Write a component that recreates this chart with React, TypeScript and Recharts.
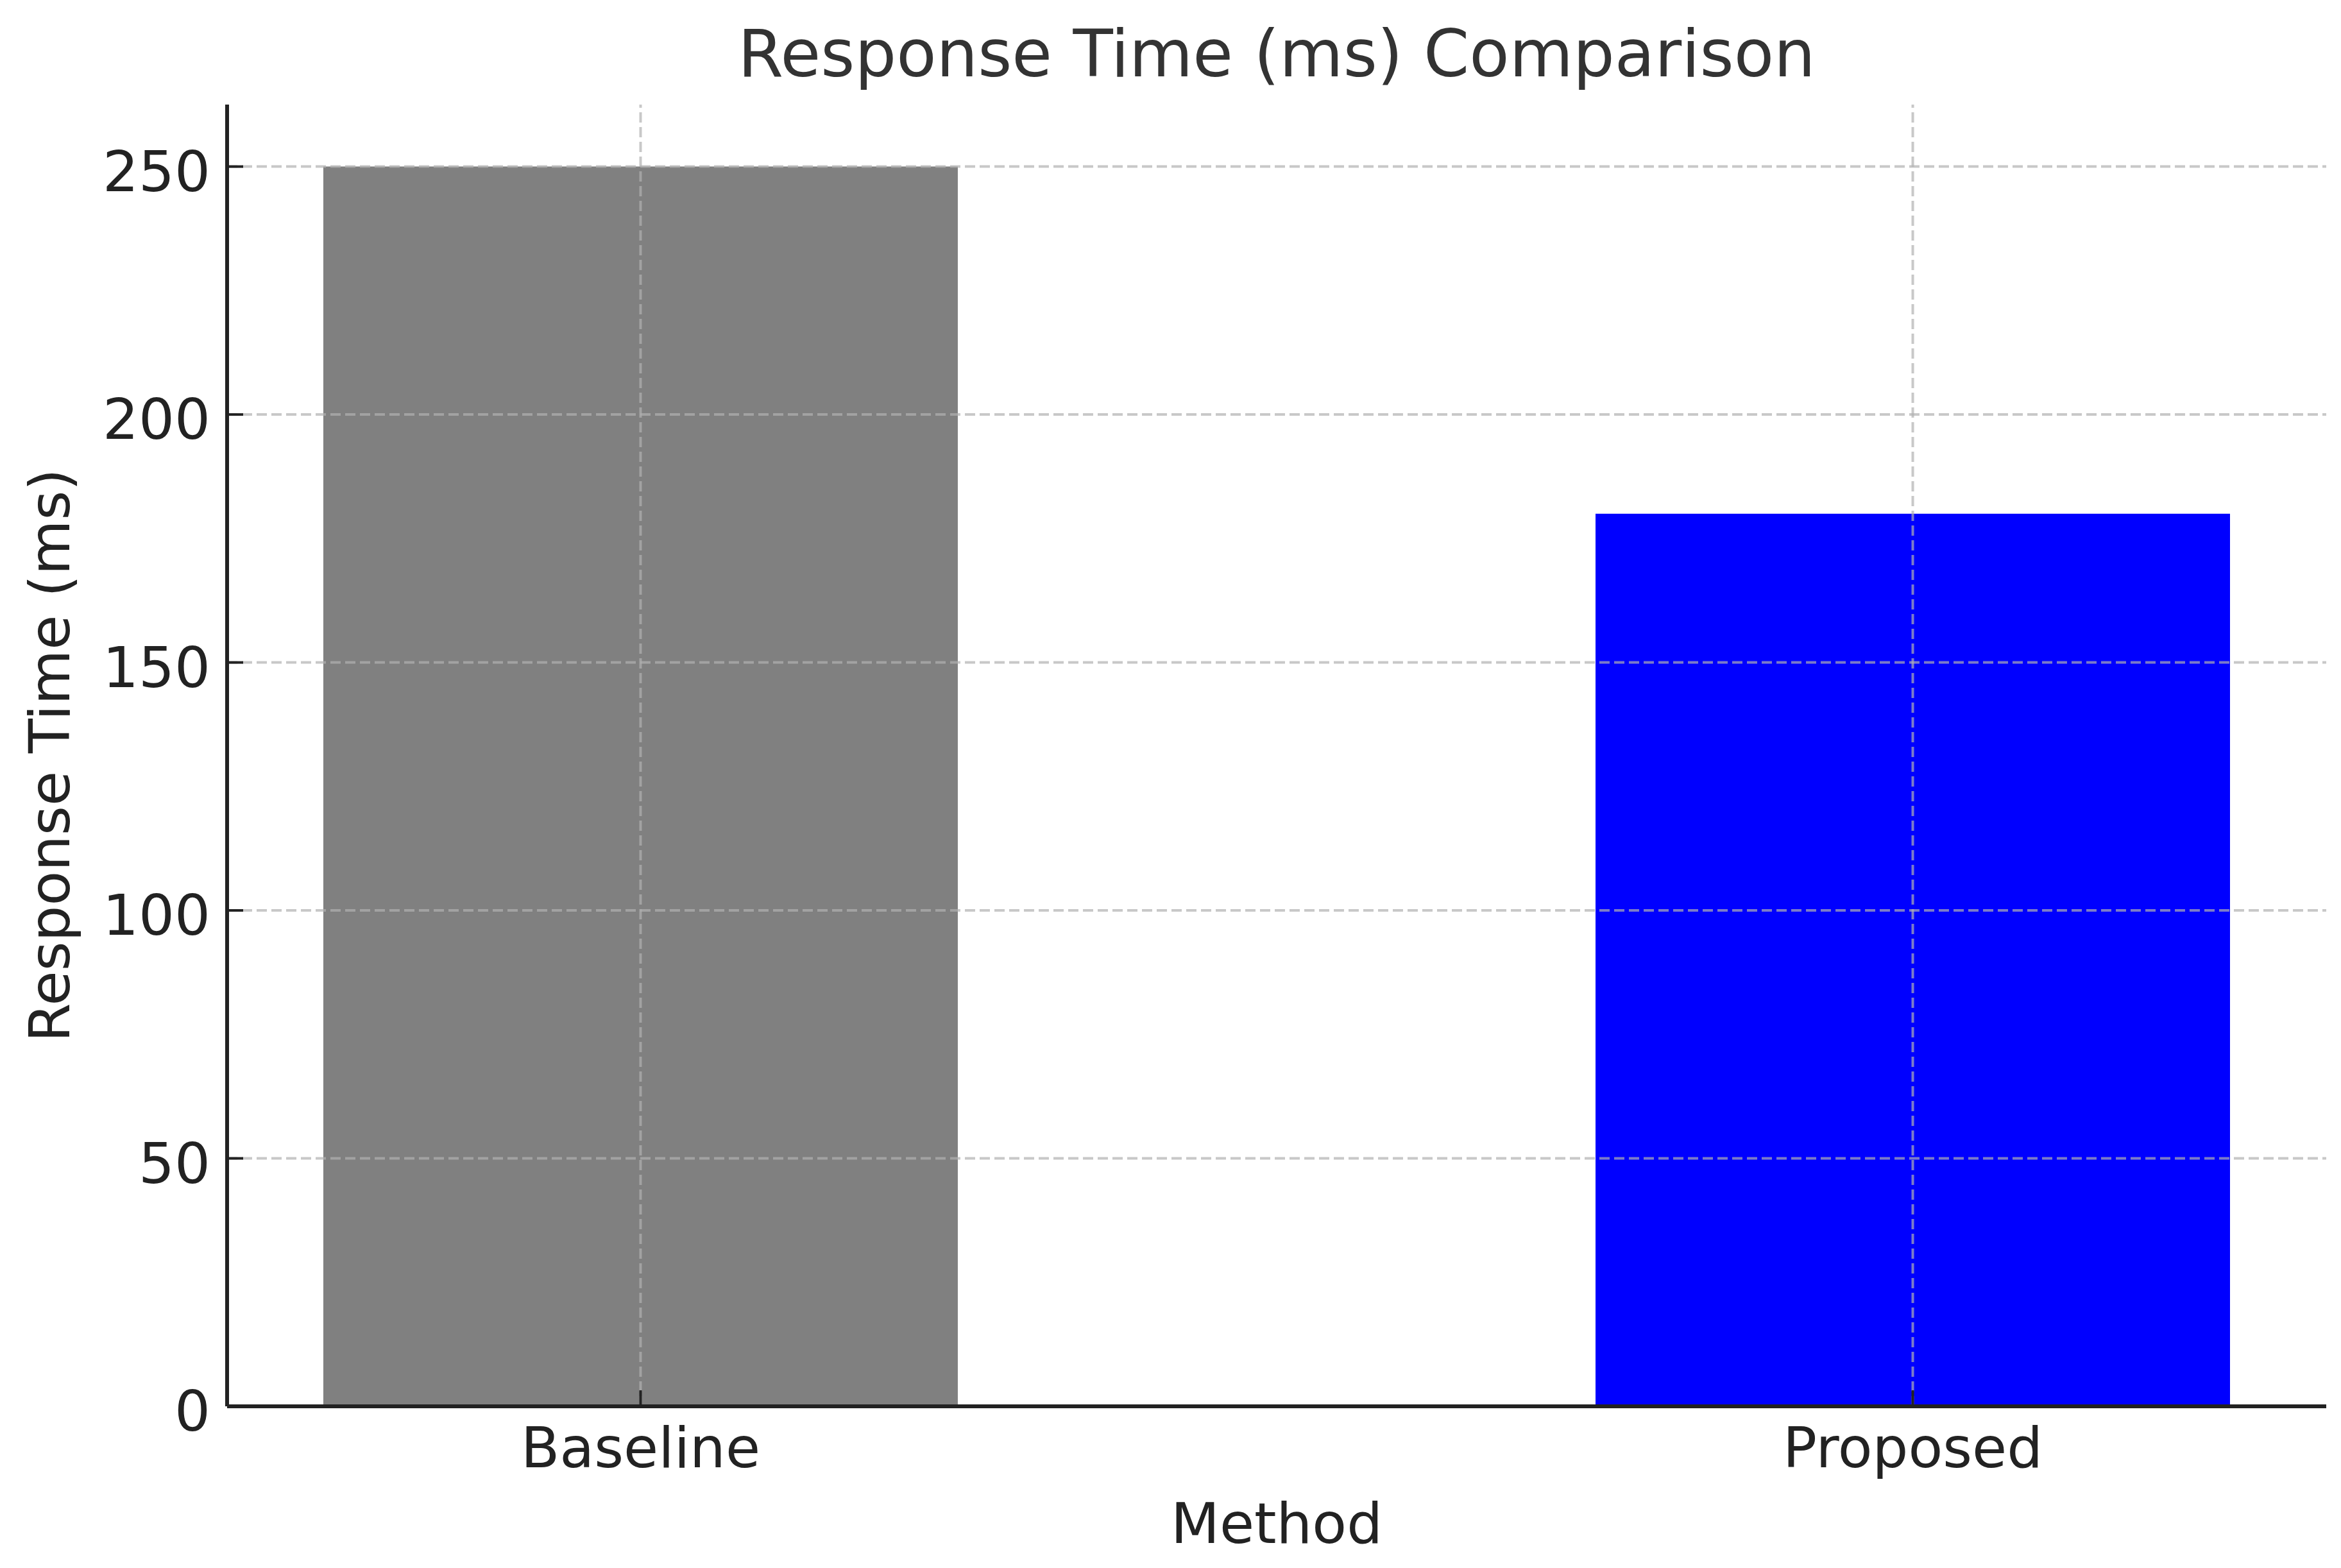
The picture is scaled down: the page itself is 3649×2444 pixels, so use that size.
import React from 'react';
import { BarChart, Bar, XAxis, YAxis, Cell, ReferenceLine } from 'recharts';

const methods = ['Baseline', 'Proposed'];
const responseTimes = [250, 180];
const barColors = ['#808080', '#0000ff'];
const yTicks = [0, 50, 100, 150, 200, 250];
const xTicks = [0, 1];

const W = 3649;
const H = 2444;
const FONT = '"DejaVu Sans", "Liberation Sans", sans-serif';
const INK = '#222222';

const data = methods.map((name, i) => ({ pos: i, name, value: responseTimes[i] }));

const gridStyle = {
  stroke: '#b0b0b0',
  strokeOpacity: 0.7,
  strokeWidth: 4,
  strokeDasharray: '16 7',
};

// matplotlib-style inward ticks: line into the plot, label outside
const YTick = (props: any) => {
  const { x, y, payload } = props;
  return (
    <g>
      <line x1={x + 26} x2={x + 51} y1={y} y2={y} stroke={INK} strokeWidth={4} />
      <text x={x} y={y + 38} textAnchor="end" fontSize={88} fill={INK} fontFamily={FONT}>
        {payload.value}
      </text>
    </g>
  );
};

const XTick = (props: any) => {
  const { x, y, payload } = props;
  return (
    <g>
      <line x1={x} x2={x} y1={y} y2={y - 25} stroke={INK} strokeWidth={4} />
      <text x={x} y={y + 95} textAnchor="middle" fontSize={88} fill={INK} fontFamily={FONT}>
        {methods[payload.value]}
      </text>
    </g>
  );
};

const XLabel = ({ viewBox }: any) => (
  <text
    x={viewBox.x + viewBox.width / 2}
    y={viewBox.y + 213}
    textAnchor="middle"
    fontSize={88}
    fill={INK}
    fontFamily={FONT}
  >
    Method
  </text>
);

const YLabel = ({ viewBox }: any) => (
  <text
    transform={`translate(108, ${viewBox.y + viewBox.height / 2}) rotate(-90)`}
    textAnchor="middle"
    fontSize={88}
    fill={INK}
    fontFamily={FONT}
  >
    Response Time (ms)
  </text>
);

export default function App() {
  return (
    <div style={{ position: 'relative', width: W, height: H, background: '#fff' }}>
      <style>{'body{margin:0}'}</style>
      <svg
        width={W}
        height={200}
        style={{ position: 'absolute', left: 0, top: 0, pointerEvents: 'none' }}
      >
        <text x={1990} y={119} textAnchor="middle" fontSize={102} fill="#333333" fontFamily={FONT}>
          Response Time (ms) Comparison
        </text>
      </svg>
      <BarChart
        width={W}
        height={H}
        data={data}
        margin={{ top: 163, right: 23, bottom: 0, left: 0 }}
      >
        <XAxis
          type="number"
          dataKey="pos"
          domain={[-0.325, 1.325]}
          ticks={xTicks}
          allowDataOverflow
          height={252}
          tickSize={0}
          tickMargin={0}
          tickLine={false}
          tick={<XTick />}
          axisLine={{ stroke: INK, strokeWidth: 6 }}
          label={<XLabel />}
        />
        <YAxis
          type="number"
          domain={[0, 262.5]}
          ticks={yTicks}
          allowDataOverflow
          width={354}
          tickSize={0}
          tickMargin={26}
          tickLine={false}
          tick={<YTick />}
          axisLine={{ stroke: INK, strokeWidth: 6 }}
          label={<YLabel />}
        />
        <Bar dataKey="value" barSize={989} isAnimationActive={false}>
          {data.map((_, i) => (
            <Cell key={`cell-${i}`} fill={barColors[i]} />
          ))}
        </Bar>
        {/* grid drawn over the bars, as in the source figure */}
        {yTicks
          .filter((t) => t > 0)
          .map((t) => (
            <ReferenceLine key={`gy-${t}`} y={t} {...gridStyle} />
          ))}
        {xTicks.map((t) => (
          <ReferenceLine key={`gx-${t}`} x={t} {...gridStyle} />
        ))}
      </BarChart>
    </div>
  );
}
